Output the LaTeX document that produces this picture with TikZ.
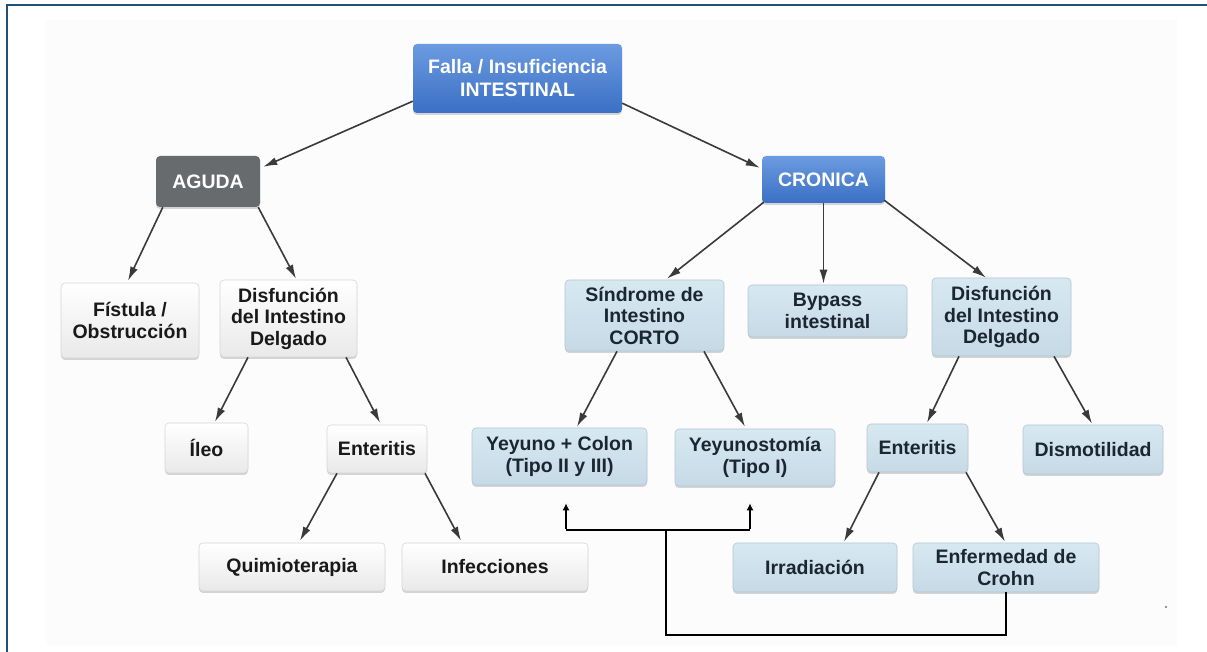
\documentclass[tikz,border=0pt]{standalone}
\usepackage{fontspec}
\setmainfont{Liberation Sans}
\usetikzlibrary{calc,arrows.meta,shadows}
\definecolor{frameblue}{HTML}{1F5278}
\definecolor{bgray}{HTML}{FCFCFC}
\definecolor{bluetop}{HTML}{6B9BE0}
\definecolor{bluebot}{HTML}{3A6FC4}
\definecolor{grayfill}{HTML}{676B6E}
\definecolor{lbtop}{HTML}{D7E8F1}
\definecolor{lbbot}{HTML}{C6DAE6}
\definecolor{lbdraw}{HTML}{B3C7D4}
\definecolor{lbtext}{HTML}{1B2631}
\definecolor{wbot}{HTML}{E9E9E9}
\definecolor{wdraw}{HTML}{D6D6D6}
\definecolor{arrowgray}{HTML}{3A3A3A}
\tikzset{
  box/.style={rounded corners=4pt, align=center, inner sep=0pt,
    font=\bfseries\fontsize{19.5}{21.5}\selectfont,
    drop shadow={shadow xshift=0pt, shadow yshift=-2pt, opacity=0.35, fill=black!45}},
  bluebox/.style={box, top color=bluetop, bottom color=bluebot, text=white},
  graybox/.style={box, fill=grayfill, text=white},
  whitebox/.style={box, top color=white, bottom color=wbot, draw=wdraw, line width=0.6pt, text=black!90},
  lbbox/.style={box, top color=lbtop, bottom color=lbbot, draw=lbdraw, line width=0.6pt, text=lbtext},
  conn/.style={draw=arrowgray, line width=1.6pt, -{Latex[length=14pt,width=8pt]}},
  bracket/.style={draw=black, line width=2pt},
  bracketarrow/.style={bracket, -{Latex[length=7pt,width=7pt]}}
}
\begin{document}
\begin{tikzpicture}[x=1pt,y=1pt]
\useasboundingbox (0,0) rectangle (1207,652);
% background and frame
\fill[bgray] (46,6) rectangle (1177,632);
\draw[frameblue, line width=1.5pt] (7,0) -- (7,647) -- (1207,647);

% nodes
\node[bluebox, minimum width=209pt, minimum height=69pt, font=\bfseries\fontsize{19.5}{23}\selectfont] (falla) at (517.5,573.5) {Falla / Insuficiencia\\INTESTINAL};
\node[graybox, minimum width=104pt, minimum height=51pt] (aguda) at (208,470.5) {AGUDA};
\node[bluebox, minimum width=123pt, minimum height=47pt] (cronica) at (823.5,472.5) {CRONICA};

\node[whitebox, minimum width=138pt, minimum height=75pt] (fistula) at (130,331.5) {Fístula /\\Obstrucción};
\node[whitebox, minimum width=137pt, minimum height=77pt] (disfL) at (288.5,333.5) {Disfunción\\del Intestino\\Delgado};
\node[whitebox, minimum width=83pt, minimum height=50pt] (ileo) at (206.5,204) {Íleo};
\node[whitebox, minimum width=100pt, minimum height=48pt] (enterL) at (377,203) {Enteritis};
\node[whitebox, minimum width=186pt, minimum height=48pt] (quimio) at (292,85) {Quimioterapia};
\node[whitebox, minimum width=186pt, minimum height=48pt] (infec) at (495,85) {Infecciones};

\node[lbbox, minimum width=159pt, minimum height=71pt] (sindrome) at (644.5,336.5) {Síndrome de\\Intestino\\CORTO};
\node[lbbox, minimum width=159pt, minimum height=52pt] (bypass) at (827.5,341) {Bypass\\intestinal};
\node[lbbox, minimum width=139pt, minimum height=78pt] (disfR) at (1001.5,335) {Disfunción\\del Intestino\\Delgado};
\node[lbbox, minimum width=175pt, minimum height=57pt] (yeyunoC) at (559.5,195.5) {Yeyuno + Colon\\(Tipo II y III)};
\node[lbbox, minimum width=160pt, minimum height=57pt] (yeyunost) at (755,194.5) {Yeyunostomía\\(Tipo I)};
\node[lbbox, minimum width=101pt, minimum height=48pt] (enterR) at (917.5,204) {Enteritis};
\node[lbbox, minimum width=140pt, minimum height=49pt] (dismot) at (1093,202.5) {Dismotilidad};
\node[lbbox, minimum width=164pt, minimum height=49pt] (irrad) at (815,84.5) {Irradiación};
\node[lbbox, minimum width=186pt, minimum height=49pt] (crohn) at (1006,84.5) {Enfermedad de\\Crohn};

% connectors
\draw[conn] ($(falla.south west)+(0,12)$) -- ($(aguda.north east)+(3,-11)$);
\draw[conn] ($(falla.south east)+(0,10)$) -- ($(cronica.north west)+(-2,-12)$);
\draw[conn] ($(aguda.south west)+(7,0)$) -- ($(fistula.north)+(-2,2)$);
\draw[conn] ($(aguda.south east)+(-2,0)$) -- ($(disfL.north)+(7.5,1)$);
\draw[conn] ($(disfL.south)+(-40.5,0)$) -- ($(ileo.north)+(8.5,1)$);
\draw[conn] ($(disfL.south)+(57.5,0)$) -- ($(enterL.north)+(3,2)$);
\draw[conn] ($(enterL.south)+(-40,0)$) -- ($(quimio.north)+(8,2)$);
\draw[conn] ($(enterL.south)+(48,0)$) -- ($(infec.north)+(-34,2)$);
\draw[conn] ($(cronica.south west)+(2,1)$) -- ($(sindrome.north)+(22.5,1)$);
\draw[conn] (cronica.south) -- ($(cronica.south |- bypass.north)+(0,1)$);
\draw[conn] ($(cronica.south east)+(-1,3)$) -- ($(disfR.north)+(-15.5,0)$);
\draw[conn] ($(sindrome.south)+(-27.5,0)$) -- ($(yeyunoC.north)+(17.5,1)$);
\draw[conn] ($(sindrome.south)+(59.5,0)$) -- ($(yeyunost.north)+(-10,2)$);
\draw[conn] ($(disfR.south)+(-42.5,0)$) -- ($(enterR.north)+(9.5,1)$);
\draw[conn] ($(disfR.south)+(52.5,0)$) -- ($(dismot.north)+(-1,1)$);
\draw[conn] ($(enterR.south)+(-38.5,0)$) -- ($(irrad.north)+(29,1)$);
\draw[conn] ($(enterR.south)+(48.5,0)$) -- ($(crohn.north)+(-1,1)$);

% bracket connector
\coordinate (jn) at (666,122);
\coordinate (la) at (566,122);
\coordinate (ra) at (750,122);
\coordinate (lt) at ($(yeyunoC.south)+(6.5,-18)$);
\coordinate (rt) at ($(yeyunost.south)+(-5,-17)$);
\draw[bracket, line join=miter] (crohn.south) -- (1006,17) -- (666,17) -- (jn);
\draw[bracket] (la) -- (ra);
\draw[bracketarrow] ($(la)+(0,1)$) -- (la |- lt);
\draw[bracketarrow] ($(ra)+(0,1)$) -- (ra |- rt);

% stray dot
\fill[black!55] (1166,45) circle (1.2pt);
\end{tikzpicture}
\end{document}
